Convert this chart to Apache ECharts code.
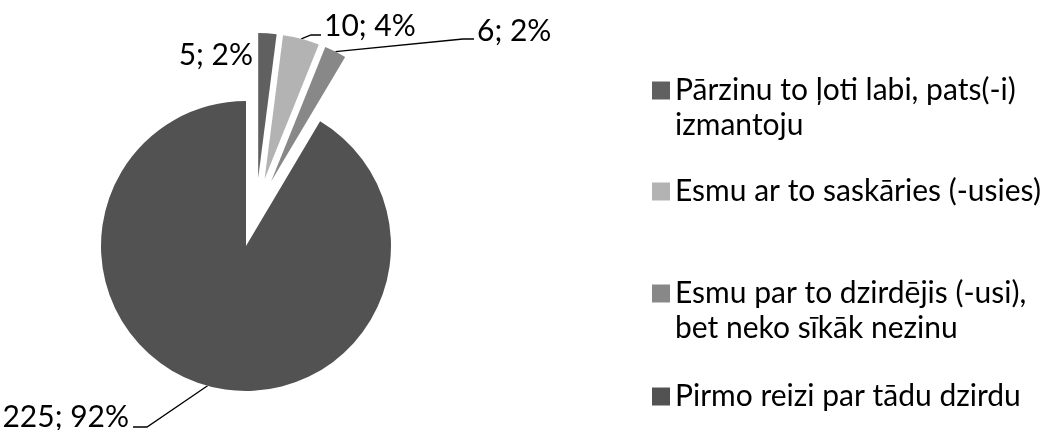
<!DOCTYPE html>
<html lang="lv">
<head>
<meta charset="UTF-8">
<title>pie</title>
<style>
    html, body { margin: 0; padding: 0; background: #fff; }
    #main { width: 1043px; height: 430px; }
</style>
<script src="https://cdn.jsdelivr.net/npm/echarts@6/dist/echarts.min.js"></script>
</head>
<body>
<div id="main"></div>
<script type="text/javascript">
    // data
    var categories = [
        'Pārzinu to ļoti labi, pats(-i) izmantoju',
        'Esmu ar to saskāries (-usies)',
        'Esmu par to dzirdējis (-usi), bet neko sīkāk nezinu',
        'Pirmo reizi par tādu dzirdu'
    ];
    var legendLines = [
        'Pārzinu to ļoti labi, pats(-i)\nizmantoju',
        'Esmu ar to saskāries (-usies)',
        'Esmu par to dzirdējis (-usi),\nbet neko sīkāk nezinu',
        'Pirmo reizi par tādu dzirdu'
    ];
    var values = [5, 10, 6, 225];
    var exploded = [true, true, true, false];
    var colors = ['#606060', '#b3b3b3', '#888888', '#525252'];

    var FONT = 'Lato';
    var FS = 30;
    var c1 = [246, 246];   // main pie centre
    var c2 = [256, 212];   // centre used for the pulled-out slices
    var R = 145;
    var OFF = 34;

    // where each data label sits (and where its leader line ends)
    var labelPos = [
        { x: 253, y: 55, align: 'right' },
        { x: 324, y: 26, align: 'left', elbow: [311, 35], end: [321, 35] },
        { x: 477, y: 31, align: 'left', elbow: [463, 39], end: [474, 39] },
        { x: 129, y: 417, align: 'right', elbow: [147, 427], end: [133, 427] }
    ];

    var myChart = echarts.init(document.getElementById('main'));

    var mainData = values.map(function (v, i) {
        return {
            name: categories[i],
            value: v,
            itemStyle: { color: exploded[i] ? 'rgba(0,0,0,0)' : colors[i] },
            labelLine: { show: i !== 0 }
        };
    });
    var outData = values.map(function (v, i) {
        return {
            name: categories[i],
            value: v,
            selected: exploded[i],
            itemStyle: { color: exploded[i] ? colors[i] : 'rgba(0,0,0,0)' }
        };
    });

    // two-line entries get an empty first line so the square sits on line one
    var legendTops = [38, 174, 241, 379];
    var legends = categories.map(function (name, i) {
        return {
            orient: 'vertical',
            left: 652,
            top: legendTops[i],
            padding: 0,
            icon: 'rect',
            itemWidth: 18,
            itemHeight: 18,
            selectedMode: false,
            data: [{ name: name, itemStyle: { color: colors[i] } }],
            formatter: function (n) {
                var t = legendLines[categories.indexOf(n)];
                return t.indexOf('\n') >= 0 ? ' \n' + t : t;
            },
            textStyle: { fontFamily: FONT, fontSize: FS, color: '#000', lineHeight: 35 }
        };
    });

    var option = {
        animation: false,
        legend: legends,
        series: [{
            type: 'pie',
            center: c1,
            radius: R,
            startAngle: 90,
            avoidLabelOverlap: false,
            percentPrecision: 0,
            silent: true,
            data: mainData,
            label: {
                show: true,
                position: 'outside',
                formatter: '{c}; {d}%',
                color: '#000',
                fontFamily: FONT,
                fontSize: FS
            },
            labelLine: { show: true, lineStyle: { color: '#000', width: 1.3 } },
            labelLayout: function (p) {
                var lp = labelPos[p.dataIndex];
                var res = { x: lp.x, y: lp.y, align: lp.align, verticalAlign: 'middle' };
                if (lp.end && p.labelLinePoints) {
                    var p0 = p.labelLinePoints[0];
                    var dx = p0[0] - c1[0], dy = p0[1] - c1[1];
                    var len = Math.sqrt(dx * dx + dy * dy);
                    var s = p0;
                    if (exploded[p.dataIndex]) {
                        s = [p0[0] + c2[0] - c1[0] + OFF * dx / len,
                             p0[1] + c2[1] - c1[1] + OFF * dy / len];
                    }
                    res.labelLinePoints = [s, lp.elbow, lp.end];
                }
                return res;
            }
        }, {
            type: 'pie',
            center: c2,
            radius: R,
            startAngle: 90,
            silent: true,
            selectedMode: 'multiple',
            selectedOffset: OFF,
            percentPrecision: 0,
            data: outData,
            label: { show: false },
            labelLine: { show: false }
        }]
    };

    myChart.setOption(option);
</script>
</body>
</html>
